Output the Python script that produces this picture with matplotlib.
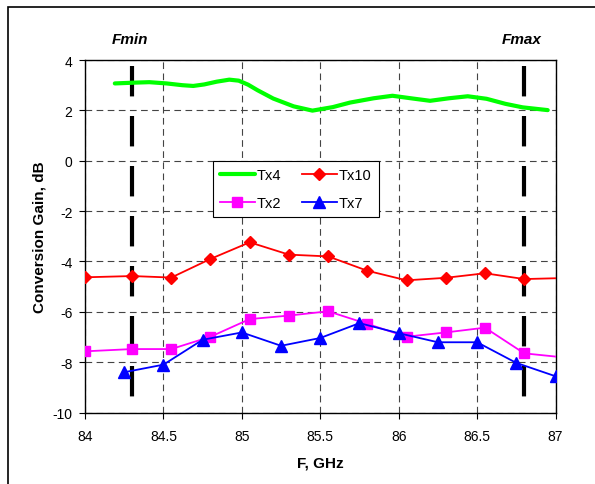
import numpy as np
import matplotlib
matplotlib.use("Agg")
import matplotlib.pyplot as plt
from matplotlib.patches import Rectangle

plt.rcParams["font.family"] = ["Liberation Sans", "DejaVu Sans"]
plt.rcParams["axes.unicode_minus"] = False

# Tx4 (smooth curve, no markers)
f_tx4 = [84.19, 84.31, 84.41, 84.52, 84.62, 84.69, 84.76, 84.84, 84.92, 84.98,
         85.04, 85.10, 85.20, 85.33, 85.45, 85.58, 85.69, 85.84, 85.96, 86.09,
         86.20, 86.32, 86.44, 86.56, 86.68, 86.79, 86.95]
g_tx4 = [3.07, 3.10, 3.12, 3.07, 3.00, 2.97, 3.03, 3.14, 3.22, 3.18,
         3.02, 2.80, 2.47, 2.16, 1.99, 2.13, 2.31, 2.48, 2.58, 2.47,
         2.38, 2.48, 2.56, 2.46, 2.26, 2.12, 2.01]

# Tx10
f_tx10 = [84.0, 84.3, 84.55, 84.8, 85.05, 85.3, 85.55, 85.8, 86.05, 86.3, 86.55, 86.8, 87.05]
g_tx10 = [-4.63, -4.58, -4.64, -3.90, -3.24, -3.73, -3.80, -4.37, -4.75, -4.65, -4.47, -4.70, -4.66]

# Tx2
f_tx2 = [84.0, 84.3, 84.55, 84.8, 85.05, 85.3, 85.55, 85.8, 86.05, 86.3, 86.55, 86.8, 87.05]
g_tx2 = [-7.57, -7.48, -7.48, -6.99, -6.29, -6.15, -5.98, -6.48, -6.99, -6.82, -6.63, -7.65, -7.81]

# Tx7
f_tx7 = [84.25, 84.5, 84.75, 85.0, 85.25, 85.5, 85.75, 86.0, 86.25, 86.5, 86.75, 87.0]
g_tx7 = [-8.40, -8.10, -7.11, -6.82, -7.35, -7.04, -6.45, -6.85, -7.21, -7.21, -8.03, -8.56]

f_min = 84.3
f_max = 86.8
x_ticks = [84, 84.5, 85, 85.5, 86, 86.5, 87]
x_tick_labels = ["84", "84.5", "85", "85.5", "86", "86.5", "87"]
y_ticks = [-10, -8, -6, -4, -2, 0, 2, 4]

fig = plt.figure(figsize=(5.95, 4.85), dpi=100)
ax = fig.add_axes([0.1429, 0.1474, 0.7908, 0.7268])

# frame around the whole chart (cut at right/bottom like the reference)
fig.patches.append(Rectangle((7.5 / 595, -0.1), 1.2, 1.1 - 8 / 485,
                             transform=fig.transFigure, fill=False,
                             lw=1.2, ec="black"))

ax.set_xlim(84, 87)
ax.set_ylim(-10, 4)
ax.set_xticks(x_ticks)
ax.set_xticklabels(x_tick_labels)
ax.set_yticks(y_ticks)
ax.tick_params(direction="out", length=4, width=0.8, labelsize=10)
ax.tick_params(axis="x", pad=8)
ax.tick_params(axis="y", pad=5)
ax.grid(True, color="#444444", linestyle=(0, (6, 4)), linewidth=0.8)
ax.set_axisbelow(True)
for s in ax.spines.values():
    s.set_linewidth(1.0)

# Fmin / Fmax markers
for fx in (f_min, f_max):
    ax.plot([fx, fx], [3.78, -10], color="black", lw=3.0,
            linestyle=(0, (7.3, 4.7)), zorder=2)

ax.plot(f_tx4, g_tx4, color="#00ff00", lw=3.0, label="Tx4", zorder=3,
        solid_capstyle="round", solid_joinstyle="round")
ax.plot(f_tx2, g_tx2, color="#ff00ff", lw=1.3, marker="s", ms=7.5,
        label="Tx2", zorder=3)
ax.plot(f_tx10, g_tx10, color="#ff0000", lw=1.3, marker="D", ms=6.5,
        label="Tx10", zorder=4)
ax.plot(f_tx7, g_tx7, color="#0000ff", lw=1.3, marker="^", ms=8,
        label="Tx7", zorder=4)

ax.set_xlabel("F, GHz", fontsize=11, fontweight="bold", labelpad=9)
ax.set_ylabel("Conversion Gain, dB", fontsize=11, fontweight="bold", labelpad=4)

fig.text(130 / 595, 1 - 40 / 485, "Fmin", fontsize=11, fontweight="bold",
         fontstyle="italic", ha="center", va="center")
fig.text(522 / 595, 1 - 40 / 485, "Fmax", fontsize=11, fontweight="bold",
         fontstyle="italic", ha="center", va="center")

handles, labels = ax.get_legend_handles_labels()
order = [labels.index(n) for n in ["Tx4", "Tx2", "Tx10", "Tx7"]]
leg = ax.legend([handles[i] for i in order], [labels[i] for i in order],
                ncol=2, loc="center", bbox_to_anchor=(0.448, 0.634),
                fancybox=False, framealpha=1, edgecolor="black",
                fontsize=10.5, handlelength=2.4, columnspacing=1.4,
                handletextpad=0.15, labelspacing=0.95, borderpad=0.5)
leg.get_frame().set_linewidth(0.8)

fig.savefig("out.png", dpi=100)
